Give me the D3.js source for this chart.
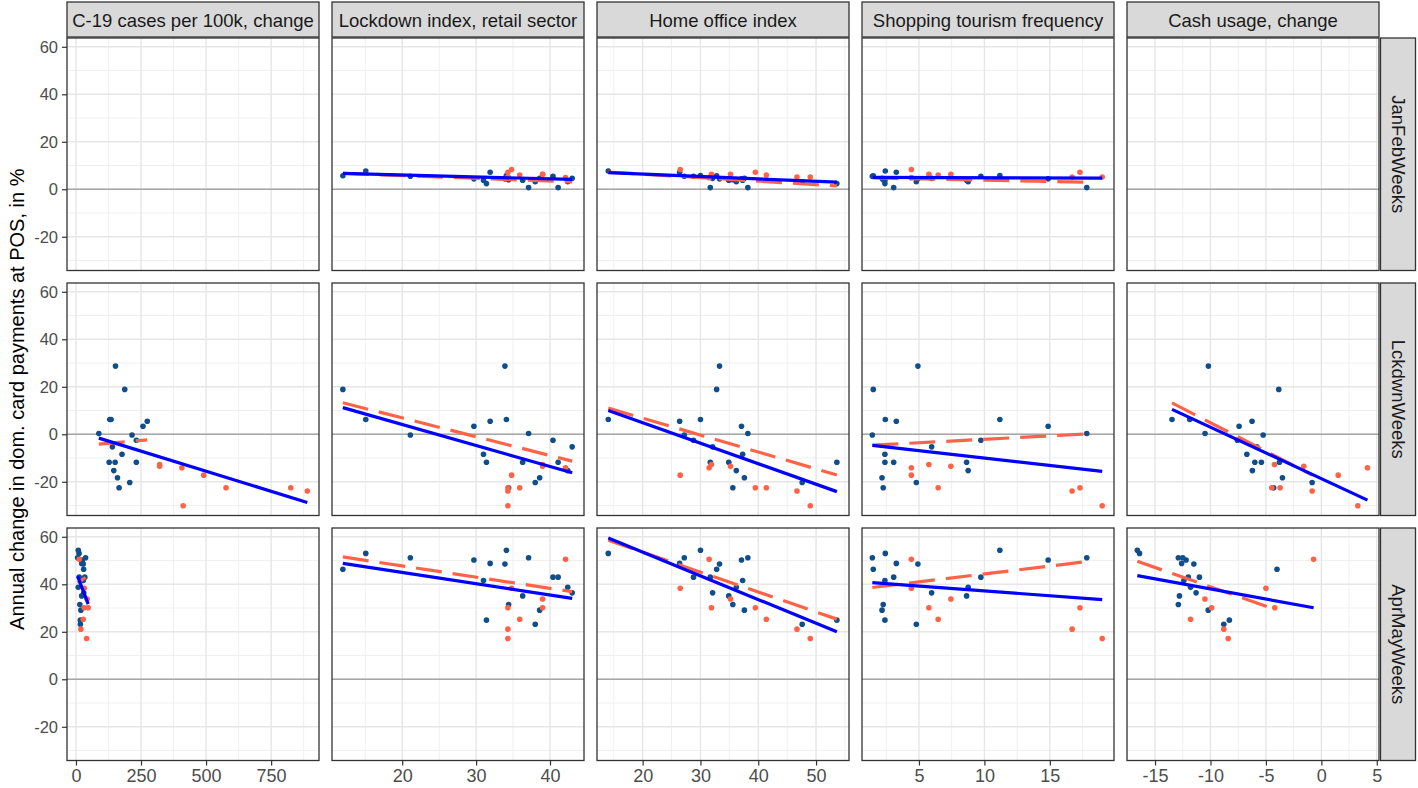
<!DOCTYPE html>
<html><head><meta charset="utf-8">
<script src="https://cdn.jsdelivr.net/npm/d3@7"></script>
<style>body{margin:0;background:#fff;} svg{display:block;font-family:"Liberation Sans",Arial,sans-serif;}</style>
</head><body><svg id="c" width="1418" height="788"></svg>
<script>
// ---------- facets & scales ----------
const colLabels = ["C-19 cases per 100k, change", "Lockdown index, retail sector", "Home office index", "Shopping tourism frequency", "Cash usage, change"];
const rowLabels = ["JanFebWeeks", "LckdwnWeeks", "AprMayWeeks"];
const colDomains = [[-34.4, 934], [10.5, 44.6], [12.1, 55.7], [0.65, 19.9], [-17.53, 5.2]];
const colTicks = [[0, 250, 500, 750], [20, 30, 40], [20, 30, 40, 50], [5, 10, 15], [-15, -10, -5, 0, 5]];
const colMinor = [[125, 375, 625, 875], [15, 25, 35], [15, 25, 35, 45, 55], [2.5, 7.5, 12.5, 17.5], [-17.5, -12.5, -7.5, -2.5, 2.5]];
const yDomain = [-34.2, 63.7];
const yTicks = [-20, 0, 20, 40, 60];
const yMinor = [-30, -10, 10, 30, 50];
const yTitle = "Annual change in dom. card payments at POS, in %";

// ---------- blue group (18 countries) ----------
const blueLockdown   = [11.97, 15.07, 21.1, 29.7, 31.9, 33.9, 34.1, 37.1, 31.0, 31.4, 36.3, 40.4, 43.0, 41.1, 38.6, 38.0, 42.4, 34.4];
const blueHomeOffice = [32.8, 14.05, 27.2, 37.1, 26.4, 33.3, 30.0, 38.2, 37.3, 53.6, 34.9, 28.8, 32.1, 31.7, 37.6, 47.6, 36.2, 35.6];
const blueShopping   = [1.51, 2.43, 1.44, 14.87, 3.27, 4.92, 11.18, 17.82, 2.40, 2.40, 8.64, 9.73, 5.97, 3.07, 2.18, 4.80, 8.76, 2.27];
const blueCasesLck   = [187.5, 135, 215.5, 257.6, 274, 152, 130, 88, 177, 127.6, 150.6, 232, 140, 232, 159.5, 206.7, 145.4, 165.8];
const blueCasesAprMay= [29.5, 12, 6.5, 25, 22, 28, 9, 37, 28, 17, 22, 12.6, 30, 34, 19, 17, 9, 15];
const blueCashLck    = [-3.84, -13.47, -5.25, -7.42, -6.25, -10.19, -11.87, -10.49, -6.72, -6.0, -5.41, -7.57, -5.82, -3.78, -3.51, -0.83, -6.22, -4.3];
const blueCashAprMay = [-4.0, -16.4, -12.9, -12.2, -12.6, -11.5, -16.6, -12.5, -12.4, -8.3, -12.8, -12.0, -11.3, -11.0, -10.2, -8.8, -11.8, -12.9];
const blueJanFeb     = [5.7, 7.7, 5.5, 4.4, 7.2, 4.4, 5.8, 0.7, 3.8, 2.4, 3.8, 5.5, 4.6, 0.7, 4.6, 3.2, 3.2, 4.0];
const blueLckdwn     = [18.9, 6.2, -0.3, 3.4, 5.5, 28.7, 6.2, 0.3, -8.4, -11.8, -11.8, -2.5, -5.3, -11.8, -18.3, -20.3, -15.3, -22.5];
const blueAprMay     = [46.3, 53.0, 51.2, 50.2, 48.8, 48.5, 54.3, 51.2, 41.6, 24.9, 35.1, 43.0, 36.4, 43.0, 29.1, 23.2, 38.7, 31.5];

// ---------- orange group (8 countries) ----------
const orangeLockdown   = [34.8, 34.3, 34.3, 34.3, 35.9, 39.0, 39.0, 42.1];
const orangeHomeOffice = [26.5, 39.5, 46.7, 49.0, 41.4, 35.2, 31.9, 31.5];
const orangeShopping   = [4.42, 17.3, 16.7, 19.0, 6.47, 7.44, 5.76, 4.42];
const orangeCasesLck   = [491, 576.7, 889, 412, 825.5, 321.5, 321.5, 407];
const orangeCasesAprMay= [32, 32, 19, 41, 28, 43, 47, 12.6];
const orangeCashLck    = [1.52, -4.47, -0.83, 3.29, -3.72, -1.58, -4.23, 4.16];
const orangeCashAprMay = [-5.0, -9.9, -8.8, -8.4, -11.8, -10.5, -4.2, -0.7];
const orangeJanFeb     = [8.3, 7.2, 5.2, 5.2, 6.0, 6.3, 6.3, 4.9];
const orangeLckdwn     = [-17.2, -22.5, -23.9, -30.1, -22.5, -13.5, -12.7, -14.1];
const orangeAprMay     = [38.3, 30.1, 21.1, 17.2, 25.3, 33.8, 30.1, 50.5];

// ---------- layout ----------
const W = 1418, H = 788;
const px0 = 67, pw = 252, pstep = 265;
const py0 = 38, ph = 232.5, pystep = 245;
const blueCol = "#104E8B", orangeCol = "#FF6347";

const svg = d3.select("#c");
svg.append("rect").attr("width", W).attr("height", H).attr("fill", "#fff");

const xOf = (group, row, col) => {
  const B = group === "b";
  const cols = B
    ? [[null, blueCasesLck, blueCasesAprMay], blueLockdown, blueHomeOffice, blueShopping, [null, blueCashLck, blueCashAprMay]]
    : [[null, orangeCasesLck, orangeCasesAprMay], orangeLockdown, orangeHomeOffice, orangeShopping, [null, orangeCashLck, orangeCashAprMay]];
  const c = cols[col];
  if (col === 0 || col === 4) return c[row];
  return c;
};
const yOf = (group, row) => (group === "b" ? [blueJanFeb, blueLckdwn, blueAprMay] : [orangeJanFeb, orangeLckdwn, orangeAprMay])[row];

function fit(pts) {
  const n = pts.length;
  const mx = d3.mean(pts, d => d[0]), my = d3.mean(pts, d => d[1]);
  let sxy = 0, sxx = 0;
  pts.forEach(d => { sxy += (d[0] - mx) * (d[1] - my); sxx += (d[0] - mx) ** 2; });
  const b = sxy / sxx, a = my - b * mx;
  const [lo, hi] = d3.extent(pts, d => d[0]);
  return [[lo, a + b * lo], [hi, a + b * hi]];
}

for (let r = 0; r < 3; r++) {
  for (let c = 0; c < 5; c++) {
    const x0 = px0 + c * pstep, y0 = py0 + r * pystep;
    const xs = d3.scaleLinear().domain(colDomains[c]).range([x0, x0 + pw]);
    const ys = d3.scaleLinear().domain(yDomain).range([y0 + ph, y0]);
    const g = svg.append("g");
    const cid = `clip${r}${c}`;
    svg.append("clipPath").attr("id", cid).append("rect").attr("x", x0).attr("y", y0).attr("width", pw).attr("height", ph);
    g.append("rect").attr("x", x0).attr("y", y0).attr("width", pw).attr("height", ph).attr("fill", "#fff");
    const grid = g.append("g").attr("clip-path", `url(#${cid})`);
    // minor grid
    grid.selectAll(".vmin").data(colMinor[c]).join("line")
      .attr("x1", d => xs(d)).attr("x2", d => xs(d)).attr("y1", y0).attr("y2", y0 + ph)
      .attr("stroke", "#F0F0F0").attr("stroke-width", 1);
    grid.selectAll(".hmin").data(yMinor).join("line")
      .attr("y1", d => ys(d)).attr("y2", d => ys(d)).attr("x1", x0).attr("x2", x0 + pw)
      .attr("stroke", "#F0F0F0").attr("stroke-width", 1);
    // major grid
    grid.selectAll(".vmaj").data(colTicks[c]).join("line")
      .attr("x1", d => xs(d)).attr("x2", d => xs(d)).attr("y1", y0).attr("y2", y0 + ph)
      .attr("stroke", "#E6E6E6").attr("stroke-width", 1.4);
    grid.selectAll(".hmaj").data(yTicks).join("line")
      .attr("y1", d => ys(d)).attr("y2", d => ys(d)).attr("x1", x0).attr("x2", x0 + pw)
      .attr("stroke", "#E6E6E6").attr("stroke-width", 1.4);
    // zero line
    grid.append("line").attr("x1", x0).attr("x2", x0 + pw).attr("y1", ys(0)).attr("y2", ys(0))
      .attr("stroke", "#A6A6A6").attr("stroke-width", 1.6);

    const bx = xOf("b", r, c), ox = xOf("o", r, c);
    if (bx) {
      const bpts = bx.map((v, i) => [v, yOf("b", r)[i]]);
      const opts = ox.map((v, i) => [v, yOf("o", r)[i]]);
      const layer = g.append("g").attr("clip-path", `url(#${cid})`);
      layer.selectAll(".bp").data(bpts).join("circle")
        .attr("cx", d => xs(d[0])).attr("cy", d => ys(d[1])).attr("r", 2.8).attr("fill", blueCol);
      layer.selectAll(".op").data(opts).join("circle")
        .attr("cx", d => xs(d[0])).attr("cy", d => ys(d[1])).attr("r", 2.8).attr("fill", orangeCol);
      const line = d3.line().x(d => xs(d[0])).y(d => ys(d[1]));
      layer.append("path").attr("d", line(fit(bpts))).attr("fill", "none")
        .attr("stroke", orangeCol).attr("stroke-width", 3.2).attr("stroke-dasharray", "26 11");
      layer.append("path").attr("d", line(fit(bpts.concat(opts)))).attr("fill", "none")
        .attr("stroke", "#0000FF").attr("stroke-width", 3.2);
    }
    // border
    g.append("rect").attr("x", x0).attr("y", y0).attr("width", pw).attr("height", ph)
      .attr("fill", "none").attr("stroke", "#333").attr("stroke-width", 1.3);

    // axes
    if (r === 2) {
      const ax = g.append("g").attr("transform", `translate(0,${y0 + ph})`)
        .call(d3.axisBottom(xs).tickValues(colTicks[c]).tickFormat(d => String(d)).tickSize(5).tickPadding(4));
      ax.select(".domain").remove();
      ax.selectAll("line").attr("stroke", "#333").attr("stroke-width", 1.2);
      ax.selectAll("text").attr("fill", "#4D4D4D").attr("font-size", 18).attr("font-family", "Liberation Sans, Arial, sans-serif");
    }
    if (c === 0) {
      const ay = g.append("g").attr("transform", `translate(${x0},0)`)
        .call(d3.axisLeft(ys).tickValues(yTicks).tickFormat(d => String(d)).tickSize(5).tickPadding(4));
      ay.select(".domain").remove();
      ay.selectAll("line").attr("stroke", "#333").attr("stroke-width", 1.2);
      ay.selectAll("text").attr("fill", "#4D4D4D").attr("font-size", 16.5).attr("font-family", "Liberation Sans, Arial, sans-serif");
    }
    // top strips
    if (r === 0) {
      svg.append("rect").attr("x", x0).attr("y", 2).attr("width", pw).attr("height", 35)
        .attr("fill", "#D9D9D9").attr("stroke", "#333").attr("stroke-width", 1.3);
      svg.append("text").attr("x", x0 + pw / 2).attr("y", 20).attr("text-anchor", "middle")
        .attr("dominant-baseline", "central").attr("font-size", 18.5).attr("fill", "#1A1A1A").text(colLabels[c]);
    }
    // right strips
    if (c === 4) {
      const sx = x0 + pw + 1.5;
      svg.append("rect").attr("x", sx).attr("y", y0).attr("width", 35).attr("height", ph)
        .attr("fill", "#D9D9D9").attr("stroke", "#333").attr("stroke-width", 1.3);
      svg.append("text").attr("transform", `translate(${sx + 17.5},${y0 + ph / 2}) rotate(90)`)
        .attr("text-anchor", "middle").attr("dominant-baseline", "central")
        .attr("font-size", 18.5).attr("fill", "#1A1A1A").text(rowLabels[r]);
    }
  }
}
svg.append("text").attr("transform", `translate(17,${py0 + (2 * pystep + ph) / 2}) rotate(-90)`)
  .attr("text-anchor", "middle").attr("dominant-baseline", "central")
  .attr("font-size", 20).attr("fill", "#000").text(yTitle);
</script></body></html>
